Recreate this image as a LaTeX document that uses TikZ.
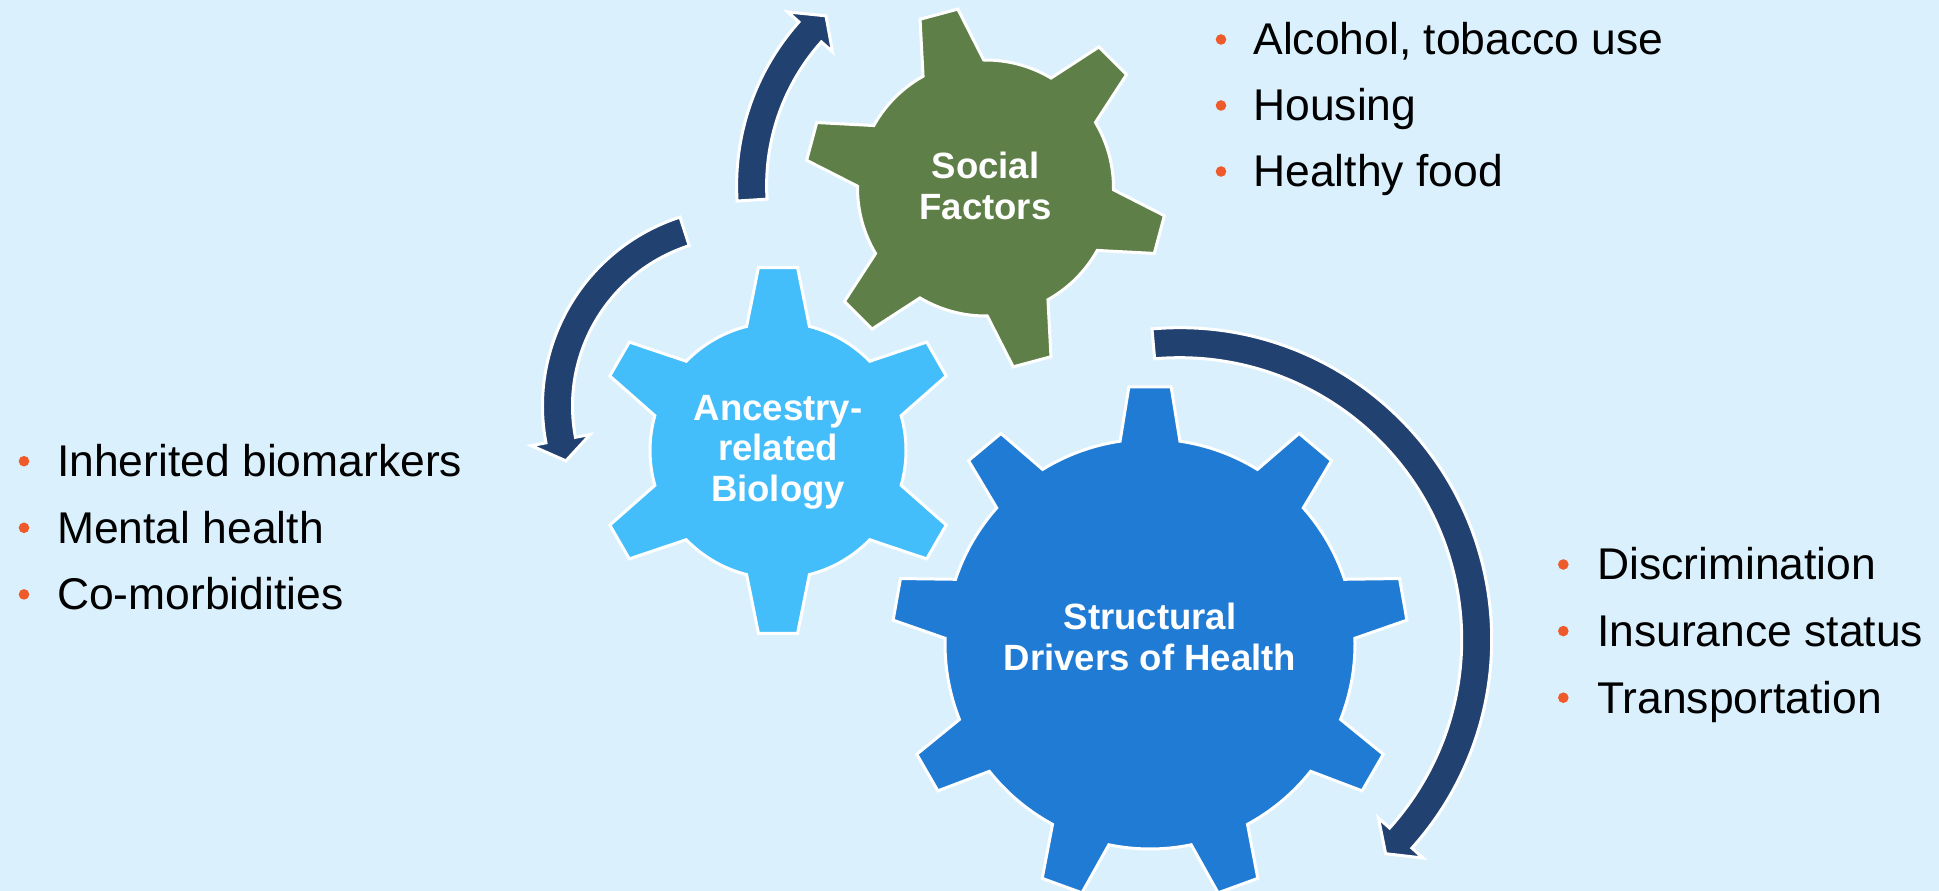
\documentclass[tikz,border=0pt]{standalone}
\usepackage{fontspec}
\setmainfont{Liberation Sans}
\definecolor{bgblue}{RGB}{218,241,253}
\definecolor{navy}{RGB}{33,65,113}
\definecolor{socialgreen}{RGB}{95,127,72}
\definecolor{skyblue}{RGB}{68,190,250}
\definecolor{midblue}{RGB}{31,123,212}
\definecolor{dotred}{RGB}{238,90,42}
\begin{document}
\begin{tikzpicture}[x=0.02cm,y=0.02cm,
	gearline/.style={draw=white,line width=0.06cm},
	arrowline/.style={draw=white,fill=navy,line width=0.06cm},
	cogtext/.style={text=white,font=\bfseries\fontsize{20.8}{23}\selectfont,align=center},
	listtext/.style={font=\fontsize{25.3}{30}\selectfont,anchor=base west,inner sep=0pt}]
	\path[use as bounding box,clip] (0,0) rectangle (1939,891);
	\fill[bgblue] (0,0) rectangle (1939,891);
	%gears: teeth every 360/n degrees, body arcs between them
	\filldraw[gearline,fill=socialgreen,shift={(985.5,703)}] ({45-14.2}:128)
	\foreach \a in {45,105,...,345}{ -- ({\a-6.2}:181) -- ({\a+6.2}:181) -- ({\a+14.2}:128)
		arc[start angle={\a+14.2},end angle={\a+60-14.2},radius=128] } -- cycle;
	\filldraw[gearline,fill=skyblue,shift={(778,440.5)}] ({30-14.2}:128)
	\foreach \a in {30,90,...,330}{ -- ({\a-6.1}:184) -- ({\a+6.1}:184) -- ({\a+14.2}:128)
		arc[start angle={\a+14.2},end angle={\a+60-14.2},radius=128] } -- cycle;
	\filldraw[gearline,fill=midblue,shift={(1150,247)}] ({90-8.4}:205)
	\foreach \a in {90,130,...,410}{ -- ({\a-4.7}:258) -- ({\a+4.7}:258) -- ({\a+8.4}:205)
		arc[start angle={\a+8.4},end angle={\a+40-8.4},radius=205] } -- cycle;
	\node[cogtext] (social) at (985.5,705) {Social\\Factors};
	\node[cogtext] (ancestry) at (778,438.7) {Ancestry-\\related\\Biology};
	\node[cogtext] (structural) at (1150,254) {Structural\\Drivers of Health};
	%curved arrows
	\filldraw[arrowline,shift={(982.6,705.4)}] (183.6:246) arc[start angle=183.6,end angle=138.3,radius=246]
	-- (138.3:261) -- (132.7:231) -- (138.3:201) -- (138.3:216)
	arc[start angle=138.3,end angle=183.6,radius=216] -- cycle;
	\filldraw[arrowline,shift={(741,485)}] (107.9:198.5) arc[start angle=107.9,end angle=190.7,radius=198.5]
	-- (190.7:213.5) -- (197.4:183.5) -- (190.7:153.5) -- (190.7:168.5)
	arc[start angle=190.7,end angle=107.9,radius=168.5] -- cycle;
	\filldraw[arrowline,shift={(1179.7,251.3)}] (95.1:312) arc[start angle=95.1,end angle=-41.9,radius=312]
	-- (-41.9:327) -- (-46.1:297) -- (-41.9:267) -- (-41.9:282)
	arc[start angle=-41.9,end angle=95.1,radius=282] -- cycle;
	%bullet lists
	\foreach \txt [count=\i] in {{Alcohol, tobacco use},Housing,{Healthy food}}{
		\node[listtext] (soc\i) at (1253,{836-66*(\i-1)}) {\txt};
		\fill[dotred] (1221,{851.5-66*(\i-1)}) circle (5.3);
	}
	\foreach \txt [count=\i] in {{Inherited biomarkers},{Mental health},Co-morbidities}{
		\node[listtext] (bio\i) at (56.7,{414.3-66.6*(\i-1)}) {\txt};
		\fill[dotred] (24,{429.8-66.6*(\i-1)}) circle (5.3);
	}
	\foreach \txt [count=\i] in {Discrimination,{Insurance status},Transportation}{
		\node[listtext] (str\i) at (1596.7,{311-66.6*(\i-1)}) {\txt};
		\fill[dotred] (1563.3,{326.5-66.6*(\i-1)}) circle (5.3);
	}
\end{tikzpicture}
\end{document}
